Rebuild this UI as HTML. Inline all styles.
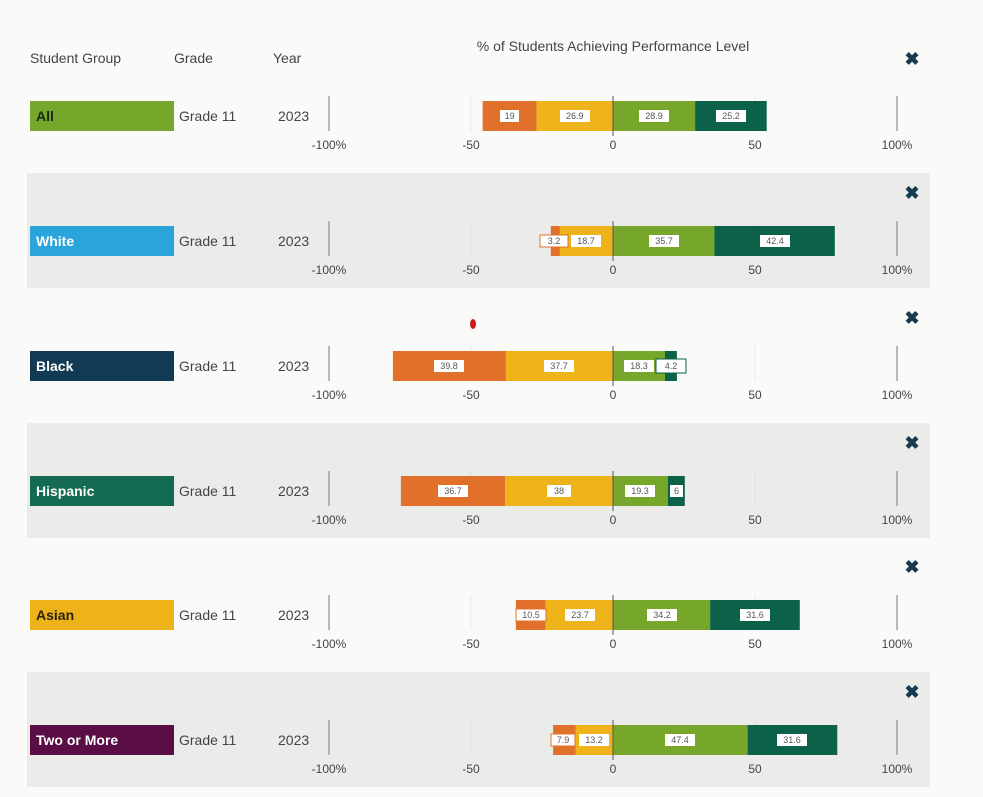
<!DOCTYPE html>
<html><head><meta charset="utf-8"><style>
body{margin:0;background:#fafbf9;}
svg{display:block;font-family:"Liberation Sans",sans-serif;}
.h{font-size:14px;fill:#444}
.g{font-size:14px;fill:#444}
.t{font-size:12px;fill:#444;text-anchor:middle}
.v{font-size:9px;fill:#555;text-anchor:middle}
.lb{font-size:14px;font-weight:bold}
.x{font-size:18px;font-weight:bold;fill:#163a4f;text-anchor:middle}
</style></head><body>
<svg width="983" height="797" viewBox="0 0 983 797">
<rect width="983" height="797" fill="#fafbf9"/>
<rect x="27" y="173" width="903" height="115" fill="#ebebea"/>
<rect x="27" y="423" width="903" height="115" fill="#ebebea"/>
<rect x="27" y="672" width="903" height="115" fill="#ebebea"/>
<text class="h" x="30" y="63">Student Group</text>
<text class="h" x="174" y="63">Grade</text>
<text class="h" x="273" y="63">Year</text>
<text class="h" x="613" y="51" text-anchor="middle">% of Students Achieving Performance Level</text>
<g id="rows"></g>

<!-- Row template values inline -->
<!-- Row 1 All c=116 -->
<g transform="translate(0,116)">
<text class="x" x="912" y="-51">✖</text>
<rect x="30" y="-15" width="144" height="30" fill="#76a72a"/><text class="lb" x="36" y="5" fill="#1a2a10">All</text>
<text class="g" x="179" y="5">Grade 11</text><text class="g" x="278" y="5">2023</text>
<line x1="329" y1="-20" x2="329" y2="15" stroke="#777"/><line x1="897" y1="-20" x2="897" y2="15" stroke="#777"/>
<line x1="471" y1="-20" x2="471" y2="15" stroke="#e4e8e4"/><line x1="755" y1="-20" x2="755" y2="15" stroke="#e4e8e4"/>
<rect x="482.6" y="-15" width="54" height="30" fill="#e0702a"/><rect x="536.6" y="-15" width="76.4" height="30" fill="#efb31a"/>
<rect x="613" y="-15" width="82.1" height="30" fill="#76a72a"/><rect x="695.1" y="-15" width="71.6" height="30" fill="#0b6248"/>
<line x1="613" y1="-20" x2="613" y2="20" stroke="#555"/>
<rect x="500" y="-6" width="19" height="12" fill="#fff"/><text class="v" x="509.6" y="3">19</text>
<rect x="560" y="-6" width="30" height="12" fill="#fff"/><text class="v" x="574.8" y="3">26.9</text>
<rect x="639" y="-6" width="30" height="12" fill="#fff"/><text class="v" x="654" y="3">28.9</text>
<rect x="716" y="-6" width="30" height="12" fill="#fff"/><text class="v" x="731" y="3">25.2</text>
<text class="t" x="329" y="33">-100%</text><text class="t" x="471" y="33">-50</text><text class="t" x="613" y="33">0</text><text class="t" x="755" y="33">50</text><text class="t" x="897" y="33">100%</text>
</g>
<!-- Row 2 White c=241 -->
<g transform="translate(0,241)">
<text class="x" x="912" y="-42">✖</text>
<rect x="30" y="-15" width="144" height="30" fill="#2aa5dc"/><text class="lb" x="36" y="5" fill="#fff">White</text>
<text class="g" x="179" y="5">Grade 11</text><text class="g" x="278" y="5">2023</text>
<line x1="329" y1="-20" x2="329" y2="15" stroke="#777"/><line x1="897" y1="-20" x2="897" y2="15" stroke="#777"/>
<line x1="471" y1="-20" x2="471" y2="15" stroke="#dde2dd"/><line x1="755" y1="-20" x2="755" y2="15" stroke="#dde2dd"/>
<rect x="550.8" y="-15" width="9.1" height="30" fill="#e0702a"/><rect x="559.9" y="-15" width="53.1" height="30" fill="#efb31a"/>
<rect x="613" y="-15" width="101.4" height="30" fill="#76a72a"/><rect x="714.4" y="-15" width="120.4" height="30" fill="#0b6248"/>
<line x1="613" y1="-20" x2="613" y2="20" stroke="#555"/>
<rect x="540" y="-6" width="28" height="12" fill="#fff" stroke="#e0702a"/><text class="v" x="554" y="3">3.2</text>
<rect x="571" y="-6" width="30" height="12" fill="#fff"/><text class="v" x="586" y="3">18.7</text>
<rect x="649" y="-6" width="30" height="12" fill="#fff"/><text class="v" x="664" y="3">35.7</text>
<rect x="760" y="-6" width="30" height="12" fill="#fff"/><text class="v" x="775" y="3">42.4</text>
<text class="t" x="329" y="33">-100%</text><text class="t" x="471" y="33">-50</text><text class="t" x="613" y="33">0</text><text class="t" x="755" y="33">50</text><text class="t" x="897" y="33">100%</text>
</g>
<!-- Row 3 Black c=366 -->
<g transform="translate(0,366)">
<text class="x" x="912" y="-42">✖</text>
<ellipse cx="473" cy="-42" rx="3" ry="5" fill="#c81e1e"/>
<rect x="30" y="-15" width="144" height="30" fill="#123a55"/><text class="lb" x="36" y="5" fill="#fff">Black</text>
<text class="g" x="179" y="5">Grade 11</text><text class="g" x="278" y="5">2023</text>
<line x1="329" y1="-20" x2="329" y2="15" stroke="#777"/><line x1="897" y1="-20" x2="897" y2="15" stroke="#777"/>
<line x1="471" y1="-20" x2="471" y2="15" stroke="#e4e8e4"/><line x1="755" y1="-20" x2="755" y2="15" stroke="#e4e8e4"/>
<rect x="392.9" y="-15" width="113" height="30" fill="#e0702a"/><rect x="505.9" y="-15" width="107.1" height="30" fill="#efb31a"/>
<rect x="613" y="-15" width="52" height="30" fill="#76a72a"/><rect x="665" y="-15" width="11.9" height="30" fill="#0b6248"/>
<line x1="613" y1="-20" x2="613" y2="20" stroke="#555"/>
<rect x="434" y="-6" width="30" height="12" fill="#fff"/><text class="v" x="449" y="3">39.8</text>
<rect x="544" y="-6" width="30" height="12" fill="#fff"/><text class="v" x="559" y="3">37.7</text>
<rect x="624" y="-6" width="30" height="12" fill="#fff"/><text class="v" x="639" y="3">18.3</text>
<rect x="656" y="-7" width="30" height="14" fill="#fff" stroke="#0b6248"/><text class="v" x="671" y="3">4.2</text>
<text class="t" x="329" y="33">-100%</text><text class="t" x="471" y="33">-50</text><text class="t" x="613" y="33">0</text><text class="t" x="755" y="33">50</text><text class="t" x="897" y="33">100%</text>
</g>
<!-- Row 4 Hispanic c=491 -->
<g transform="translate(0,491)">
<text class="x" x="912" y="-42">✖</text>
<rect x="30" y="-15" width="144" height="30" fill="#136b52"/><text class="lb" x="36" y="5" fill="#fff">Hispanic</text>
<text class="g" x="179" y="5">Grade 11</text><text class="g" x="278" y="5">2023</text>
<line x1="329" y1="-20" x2="329" y2="15" stroke="#777"/><line x1="897" y1="-20" x2="897" y2="15" stroke="#777"/>
<line x1="471" y1="-20" x2="471" y2="15" stroke="#dde2dd"/><line x1="755" y1="-20" x2="755" y2="15" stroke="#dde2dd"/>
<rect x="400.9" y="-15" width="104.2" height="30" fill="#e0702a"/><rect x="505.1" y="-15" width="107.9" height="30" fill="#efb31a"/>
<rect x="613" y="-15" width="54.8" height="30" fill="#76a72a"/><rect x="667.8" y="-15" width="17" height="30" fill="#0b6248"/>
<line x1="613" y1="-20" x2="613" y2="20" stroke="#555"/>
<rect x="438" y="-6" width="30" height="12" fill="#fff"/><text class="v" x="453" y="3">36.7</text>
<rect x="547" y="-6" width="24" height="12" fill="#fff"/><text class="v" x="559" y="3">38</text>
<rect x="625" y="-6" width="30" height="12" fill="#fff"/><text class="v" x="640" y="3">19.3</text>
<rect x="670" y="-6" width="13" height="12" fill="#fff"/><text class="v" x="676.5" y="3">6</text>
<text class="t" x="329" y="33">-100%</text><text class="t" x="471" y="33">-50</text><text class="t" x="613" y="33">0</text><text class="t" x="755" y="33">50</text><text class="t" x="897" y="33">100%</text>
</g>
<!-- Row 5 Asian c=615 -->
<g transform="translate(0,615)">
<text class="x" x="912" y="-42">✖</text>
<rect x="30" y="-15" width="144" height="30" fill="#efb31a"/><text class="lb" x="36" y="5" fill="#2a2210">Asian</text>
<text class="g" x="179" y="5">Grade 11</text><text class="g" x="278" y="5">2023</text>
<line x1="329" y1="-20" x2="329" y2="15" stroke="#777"/><line x1="897" y1="-20" x2="897" y2="15" stroke="#777"/>
<line x1="471" y1="-20" x2="471" y2="15" stroke="#e4e8e4"/><line x1="755" y1="-20" x2="755" y2="15" stroke="#e4e8e4"/>
<rect x="515.9" y="-15" width="29.8" height="30" fill="#e0702a"/><rect x="545.7" y="-15" width="67.3" height="30" fill="#efb31a"/>
<rect x="613" y="-15" width="97.1" height="30" fill="#76a72a"/><rect x="710.1" y="-15" width="89.7" height="30" fill="#0b6248"/>
<line x1="613" y1="-20" x2="613" y2="20" stroke="#555"/>
<rect x="516" y="-6" width="30" height="12" fill="#fff" stroke="#e0702a"/><text class="v" x="531" y="3">10.5</text>
<rect x="565" y="-6" width="30" height="12" fill="#fff"/><text class="v" x="580" y="3">23.7</text>
<rect x="647" y="-6" width="30" height="12" fill="#fff"/><text class="v" x="662" y="3">34.2</text>
<rect x="740" y="-6" width="30" height="12" fill="#fff"/><text class="v" x="755" y="3">31.6</text>
<text class="t" x="329" y="33">-100%</text><text class="t" x="471" y="33">-50</text><text class="t" x="613" y="33">0</text><text class="t" x="755" y="33">50</text><text class="t" x="897" y="33">100%</text>
</g>
<!-- Row 6 Two or More c=740 -->
<g transform="translate(0,740)">
<text class="x" x="912" y="-42">✖</text>
<rect x="30" y="-15" width="144" height="30" fill="#5a0e45"/><text class="lb" x="36" y="5" fill="#fff">Two or More</text>
<text class="g" x="179" y="5">Grade 11</text><text class="g" x="278" y="5">2023</text>
<line x1="329" y1="-20" x2="329" y2="15" stroke="#777"/><line x1="897" y1="-20" x2="897" y2="15" stroke="#777"/>
<line x1="471" y1="-20" x2="471" y2="15" stroke="#dde2dd"/><line x1="755" y1="-20" x2="755" y2="15" stroke="#dde2dd"/>
<rect x="553.1" y="-15" width="22.4" height="30" fill="#e0702a"/><rect x="575.5" y="-15" width="37.5" height="30" fill="#efb31a"/>
<rect x="613" y="-15" width="134.6" height="30" fill="#76a72a"/><rect x="747.6" y="-15" width="89.7" height="30" fill="#0b6248"/>
<line x1="613" y1="-20" x2="613" y2="20" stroke="#555"/>
<rect x="551" y="-6" width="24" height="12" fill="#fff" stroke="#e0702a"/><text class="v" x="563" y="3">7.9</text>
<rect x="579" y="-6" width="30" height="12" fill="#fff"/><text class="v" x="594" y="3">13.2</text>
<rect x="665" y="-6" width="30" height="12" fill="#fff"/><text class="v" x="680" y="3">47.4</text>
<rect x="777" y="-6" width="30" height="12" fill="#fff"/><text class="v" x="792" y="3">31.6</text>
<text class="t" x="329" y="33">-100%</text><text class="t" x="471" y="33">-50</text><text class="t" x="613" y="33">0</text><text class="t" x="755" y="33">50</text><text class="t" x="897" y="33">100%</text>
</g>
</svg>
</body></html>
